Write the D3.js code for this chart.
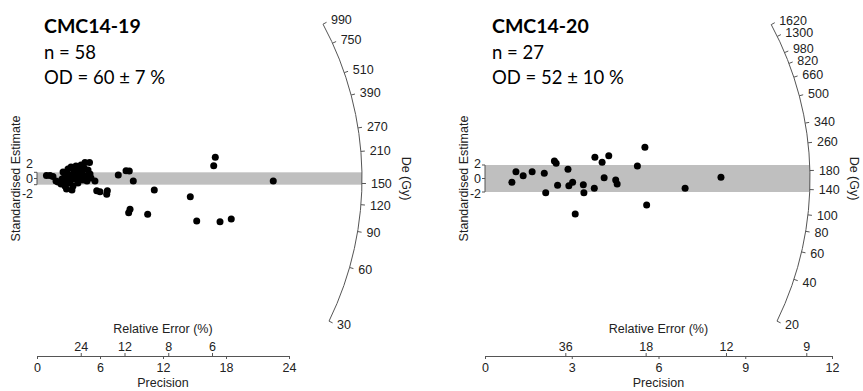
<!DOCTYPE html>
<html>
<head>
<meta charset="utf-8">
<script src="https://cdn.jsdelivr.net/npm/d3@7.9.0/dist/d3.min.js"></script>
<style>
  body { margin: 0; background: #fff; }
  svg text { font-family: "Liberation Sans", Arial, sans-serif; fill: #222; }
  .info { font-family: Lato, "Open Sans", sans-serif; fill: #000; }
</style>
</head>
<body>
<svg id="chart" width="863" height="391"></svg>
<script>
// ---- data: CMC14-19 ----
const s19Name = 'CMC14-19';
const s19Info = ['n = 58', 'OD = 60 ± 7 %'];
const s19Precision = [5.52, 5.69, 6.0, 6.70, 6.64, 7.74, 8.48, 8.79, 9.17, 8.86, 8.73, 10.54, 11.17, 14.6, 15.21, 16.83, 16.98, 17.43, 18.5, 22.5,
  0.90, 1.24, 1.52, 1.81, 2.0, 2.29, 2.48, 2.57, 2.67, 2.81, 2.86, 2.95, 3.05, 3.14, 3.24, 3.33, 3.43, 3.52, 3.62,
  3.71, 3.81, 3.90, 4.0, 4.10, 4.19, 4.29, 4.38, 4.48, 4.57, 4.67, 4.76, 4.86, 5.0, 5.05, 5.14, 2.38, 2.76, 3.33];
const s19Std = [-0.81, -3.95, -4.28, -3.95, -5.12, 1.13, 2.53, 2.43, -0.81, -9.98, -11.08, -11.6, -3.73, -5.9, -13.77, 4.15, 6.87, -14.0, -13.12, -0.81,
  0.97, 0.97, 0.65, -0.81, -1.13, -1.78, 2.11, 0.16, -2.43, -3.40, -0.81, 3.08, 1.13, -1.46, 3.73, 0.49, -2.43, 2.43, -0.16,
  4.05, 1.46, -1.46, 3.08, 0.49, 4.37, 2.11, -0.49, 3.40, 5.18, 0.81, -0.81, 2.75, 5.18, 1.46, 0.16, -0.16, 1.46, -3.73];
const s19Central = 158;
const s19DeTicks = [30, 60, 90, 120, 150, 210, 270, 390, 510, 750, 990];
const s19PrecTicks = [0, 6, 12, 18, 24];
const s19ReTicks = [24, 12, 8, 6];

// ---- data: CMC14-20 ----
const s20Name = 'CMC14-20';
const s20Info = ['n = 27', 'OD = 52 ± 10 %'];
const s20Precision = [0.93, 1.07, 1.32, 1.63, 2.05, 2.10, 2.40, 2.46, 2.51, 2.87, 2.90, 3.03, 3.12, 3.40, 3.42, 3.78, 3.80, 4.05, 4.12, 4.28, 4.52, 4.57, 5.27, 5.53, 5.59, 6.92, 8.16];
const s20Std = [-0.56, 1.01, 0.41, 1.01, 0.77, -2.10, 2.59, 2.25, -1.01, 1.36, -1.07, -0.56, -5.26, -0.92, -2.10, -1.45, 3.14, 2.40, 0.12, 3.38, -0.22, -0.81, 1.85, 4.62, -3.93, -1.45, 0.18];
const s20Central = 162;
const s20DeTicks = [20, 40, 60, 80, 100, 140, 180, 260, 340, 500, 660, 820, 980, 1300, 1620];
const s20PrecTicks = [0, 3, 6, 9, 12];
const s20ReTicks = [36, 18, 12, 9];

const stdTicks = [-2, 0, 2];
const bandLimits = [-2, 2];

const panels = [
  { name: s19Name, info: s19Info, prec: s19Precision, std: s19Std, central: s19Central,
    deTicks: s19DeTicks, precTicks: s19PrecTicks, reTicks: s19ReTicks,
    xRange: [37, 289], ratio: 0.294 },
  { name: s20Name, info: s20Info, prec: s20Precision, std: s20Std, central: s20Central,
    deTicks: s20DeTicks, precTicks: s20PrecTicks, reTicks: s20ReTicks,
    xRange: [485, 832], ratio: 0.2335 }
];

const svg = d3.select('#chart');
const originY = 178.5;
const R = 325;
const axisY = 356;
const fs = 12.5;

panels.forEach(p => {
  const g = svg.append('g');
  const xMax = p.precTicks[p.precTicks.length - 1];
  const x = d3.scaleLinear().domain([0, xMax]).range(p.xRange);
  const kx = x(1) - x(0);
  const ky = p.ratio * kx;
  const y = d3.scaleLinear().domain([-2, 2]).range([originY + 2 * ky, originY - 2 * ky]);
  // tick labels of the standardised axis sit on a fixed spacing
  const yLab = d3.scaleLinear().domain([-2, 2]).range([originY + 15, originY - 15]);
  const x0 = x(0);
  const z0 = Math.log(p.central);

  // screen angle of a De value (ray from origin)
  const ang = de => Math.atan2(y(Math.log(de) - z0) - y(0), x(1) - x(0));

  // 2-sigma band
  g.append('rect')
    .attr('x', x0).attr('y', y(bandLimits[1]))
    .attr('width', R).attr('height', y(bandLimits[0]) - y(bandLimits[1]))
    .attr('fill', '#bfbfbf');

  // points
  g.selectAll('circle').data(d3.zip(p.prec, p.std)).join('circle')
    .attr('cx', d => x(d[0])).attr('cy', d => y(d[1]))
    .attr('r', 3.5).attr('fill', '#000');

  // standardised estimate axis
  g.append('line').attr('x1', x0).attr('x2', x0)
    .attr('y1', y(-2)).attr('y2', y(2)).attr('stroke', '#555');
  stdTicks.forEach(t => {
    g.append('line').attr('x1', x0 - 3).attr('x2', x0)
      .attr('y1', y(t)).attr('y2', y(t)).attr('stroke', '#555');
    g.append('text').attr('x', x0 - 4).attr('y', yLab(t))
      .attr('dy', '0.35em').attr('text-anchor', 'end')
      .attr('font-size', fs).text(t);
  });
  g.append('text')
    .attr('transform', `translate(${x0 - 21},${originY}) rotate(-90)`)
    .attr('text-anchor', 'middle').attr('dy', '0.35em')
    .attr('font-size', fs).text('Standardised Estimate');

  // precision axis
  const ax = g.append('g').attr('transform', `translate(0,${axisY})`)
    .call(d3.axisBottom(x).tickValues(p.precTicks).tickSize(3).tickSizeOuter(0).tickPadding(4));
  ax.select('.domain').attr('stroke', '#555');
  ax.selectAll('.tick line').attr('stroke', '#555');
  ax.selectAll('.tick text').attr('font-size', fs).attr('font-family', '"Liberation Sans", Arial, sans-serif').attr('fill', '#222');

  // relative error axis
  const re = g.append('g').attr('transform', `translate(0,${axisY})`)
    .call(d3.axisTop(x).tickValues(p.reTicks.map(r => 100 / r))
      .tickFormat((d, i) => p.reTicks[i]).tickSize(3).tickSizeOuter(0).tickPadding(2));
  re.select('.domain').remove();
  re.selectAll('.tick line').attr('stroke', '#555');
  re.selectAll('.tick text').attr('font-size', fs).attr('font-family', '"Liberation Sans", Arial, sans-serif').attr('fill', '#222');

  const xMid = x(xMax / 2);
  g.append('text').attr('x', xMid).attr('y', 333).attr('text-anchor', 'middle')
    .attr('font-size', fs).text('Relative Error (%)');
  g.append('text').attr('x', xMid).attr('y', 387).attr('text-anchor', 'middle')
    .attr('font-size', fs).text('Precision');

  // De arc axis
  const aTop = ang(p.deTicks[p.deTicks.length - 1]);
  const aBot = ang(p.deTicks[0]);
  const path = d3.path();
  path.arc(x0, originY, R, aTop, aBot, false);
  g.append('path').attr('d', path.toString()).attr('fill', 'none').attr('stroke', '#555');
  p.deTicks.forEach(de => {
    const a = ang(de);
    g.append('line')
      .attr('x1', x0 + R * Math.cos(a)).attr('y1', originY + R * Math.sin(a))
      .attr('x2', x0 + (R + 4) * Math.cos(a)).attr('y2', originY + (R + 4) * Math.sin(a))
      .attr('stroke', '#555');
    g.append('text')
      .attr('x', x0 + (R + 9) * Math.cos(a)).attr('y', originY + (R + 9) * Math.sin(a))
      .attr('dy', '0.35em').attr('font-size', fs).text(de);
  });
  g.append('text')
    .attr('transform', `translate(${x0 + 369},${originY}) rotate(90)`)
    .attr('text-anchor', 'middle').attr('dy', '0.35em')
    .attr('font-size', fs).text('De (Gy)');

  // sample info
  g.append('text').attr('class', 'info').attr('x', x0 + 7).attr('y', 33)
    .attr('font-size', 19.5).attr('font-weight', 'bold').text(p.name);
  p.info.forEach((t, i) => {
    g.append('text').attr('class', 'info').attr('x', x0 + 7).attr('y', 59 + i * 25)
      .attr('font-size', 18.5).text(t);
  });
});
</script>
</body>
</html>
